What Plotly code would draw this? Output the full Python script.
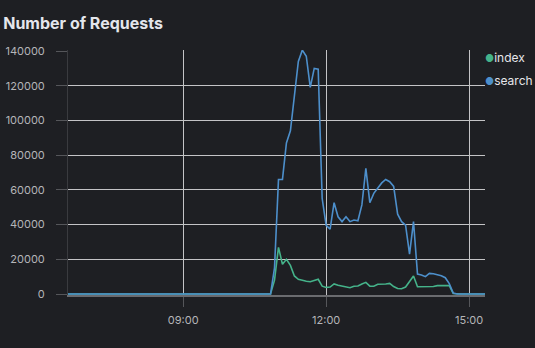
import pandas as pd
import plotly.graph_objects as go

# timestamps every 5 minutes from 06:35 to 15:20
times = pd.date_range("2024-01-01 06:35", "2024-01-01 15:20", freq="5min")

early_search = [0, 0, 0, 0, 0, 0, 0, 0, 200, 400, 200, 0, 0, 0, 0, 0, 0,
                0, 0, 0, 0, 0, 0, 0, 0, 0, 0, 0, 0, 0, 0, 0, 0, 0,
                0, 0, 0, 0, 0, 0, 200, 0, 0, 0, 0, 0, 0, 0, 0, 0, 0]
early_index = [0, 0, 0, 0, 0, 0, 0, 0, 150, 300, 150, 0, 0, 0, 0, 0, 0,
               0, 0, 0, 0, 0, 0, 0, 0, 0, 0, 0, 0, 0, 0, 0, 0, 0,
               0, 0, 0, 0, 0, 0, 100, 0, 0, 0, 0, 0, 0, 0, 0, 0, 0]

busy_search = [0, 15000, 66000, 66000, 87000, 94000, 113000, 134000, 140500,
               137000, 119000, 130000, 129500, 55000, 39500, 37400, 52600,
               44500, 41700, 44500, 41700, 42600, 42200, 51300, 72400, 52600,
               58000, 61000, 64000, 66000, 64700, 62000, 46000, 41700, 39700,
               23000, 41700, 11500, 11000, 10000, 11900, 11700, 11300, 10500,
               9400, 6000, 500]
busy_index = [0, 8000, 26900, 17100, 20000, 16500, 10400, 8500, 7800, 7300,
              7100, 7900, 8500, 4500, 3800, 4000, 5800, 5000, 4500, 4200, 3600,
              4500, 4600, 5800, 6700, 4500, 4500, 5600, 5600, 5800, 6100, 4300,
              3200, 3000, 4000, 7000, 10400, 4200, 4200, 4500, 4400, 4300, 4800,
              4800, 4800, 4800, 300]

tail_search = [0, 0, 0, 0, 0, 0, 0, 0]
tail_index = [0, 0, 0, 0, 0, 0, 0, 0]

search = early_search + busy_search + tail_search
index = early_index + busy_index + tail_index

series_names = ["index", "search"]
series_colors = ["#45b38a", "#4d8fcb"]

BG = "#1e1f23"
ML, MR, MT, MB = 68, 50, 50, 53
W, H = 535, 348

fig = go.Figure()
fig.add_trace(go.Scatter(x=times, y=index, mode="lines", name="index",
                         line=dict(color=series_colors[0], width=1.6),
                         showlegend=False, hoverinfo="skip"))
fig.add_trace(go.Scatter(x=times, y=search, mode="lines", name="search",
                         line=dict(color=series_colors[1], width=1.6),
                         showlegend=False, hoverinfo="skip"))

fig.update_layout(
    width=W, height=H,
    paper_bgcolor=BG, plot_bgcolor=BG,
    margin=dict(l=ML, r=MR, t=MT, b=MB, autoexpand=False),
    font=dict(family="Inter, Roboto, sans-serif", color="#b5b5b8", size=11),
    title=dict(text="<b>Number of Requests</b>", x=0.006, xanchor="left",
               y=1 - 23 / H, yanchor="middle",
               font=dict(size=16, color="#e4e6ec", family="Inter, sans-serif")),
    showlegend=False,
)

fig.update_xaxes(
    range=[times[0], times[-1]],
    type="date",
    tick0="2024-01-01 00:00", dtick=3 * 3600 * 1000,
    tickformat="%H:%M",
    showgrid=True, gridcolor="#c4c4c6", gridwidth=1,
    ticks="outside", ticklen=10, tickcolor="#55565a", tickwidth=1,
    showline=True, linecolor="#6a6b6f", linewidth=1.5,
    zeroline=False, automargin=False, layer="below traces",
    ticklabelstandoff=4,
    tickfont=dict(size=11, color="#b5b5b8"),
)
fig.update_yaxes(
    range=[-576, 140576],
    tickvals=[0, 20000, 40000, 60000, 80000, 100000, 120000, 140000],
    tickformat="d",
    showgrid=True, gridcolor="#c4c4c6", gridwidth=1,
    ticks="outside", ticklen=11, tickcolor="#55565a", tickwidth=1,
    showline=True, linecolor="#3a3b3f", linewidth=1,
    zeroline=False, automargin=False, layer="below traces",
    ticklabelstandoff=9,
    tickfont=dict(size=11, color="#b5b5b8"),
)

# legend drawn as annotations (dot + label), top right
legend_y = [57.5, 80]
pw = W - ML - MR
ph = H - MT - MB
for name, color, yp in zip(series_names, series_colors, legend_y):
    fig.add_annotation(
        xref="paper", yref="paper",
        x=(484 - ML) / pw, xanchor="left",
        y=1 - (yp - MT) / ph, yanchor="middle",
        text=f'<span style="color:{color};font-size:10px">●</span>{name}',
        showarrow=False,
        font=dict(size=12, color="#e6e6ea", family="Inter, sans-serif"),
        borderpad=0,
    )

fig.write_html("out.html")
